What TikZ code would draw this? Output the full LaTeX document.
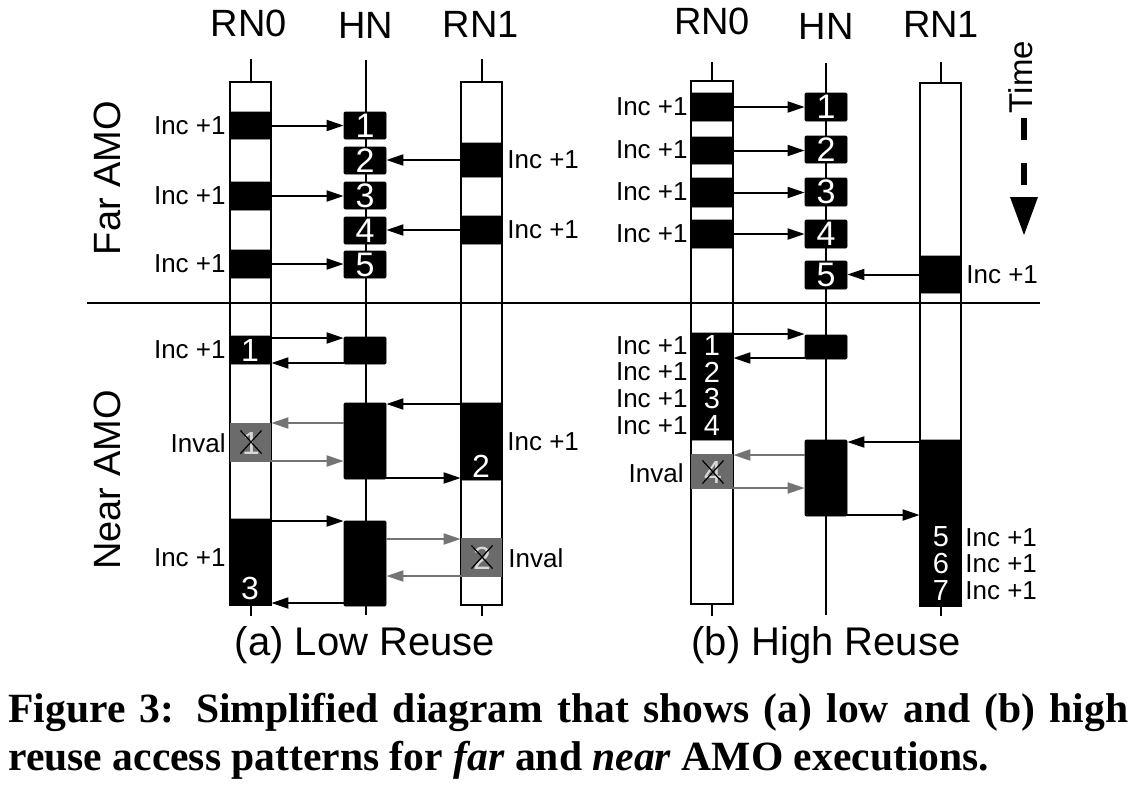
\documentclass[tikz,border=0pt]{standalone}
\usepackage{fontspec}
\setmainfont{Liberation Serif}
\setsansfont{Liberation Sans}
\usetikzlibrary{arrows.meta,shapes.misc}
\definecolor{boxgray}{HTML}{6B6B6B}
\definecolor{arrgray}{HTML}{747474}
\definecolor{numgray}{HTML}{D8D8D8}
\newcommand\bx[7]{%
  \pgfmathsetmacro\bxw{(#4-#2)*0.5}\pgfmathsetmacro\bxh{(#5-#3)*0.5}%
  \node[#6,minimum width=\bxw pt,minimum height=\bxh pt] (#1) at ({(#2+#4)/2},{(#3+#5)/2}) {#7};}
\tikzset{
  bar/.style={draw=black,fill=white,line width=1.2pt,inner sep=0pt},
  blk/.style={draw=black,fill=black,line width=0.4pt,inner sep=0pt,rounded corners=0.6pt,text=white,font=\sffamily\fontsize{17}{17}\selectfont},
  gry/.style={fill=boxgray,inner sep=0pt},
  lab/.style={font=\sffamily\fontsize{13}{13}\selectfont,inner sep=0pt},
  ttl/.style={font=\sffamily\fontsize{19}{19}\selectfont,inner sep=0pt,anchor=base},
  num/.style={font=\sffamily\fontsize{16}{16}\selectfont,inner sep=0pt,text=white},
  snum/.style={font=\sffamily\fontsize{14.5}{14.5}\selectfont,inner sep=0pt,text=white},
  gnum/.style={font=\sffamily\fontsize{16}{16}\selectfont,inner sep=0pt,text=numgray},
  xmark/.style={cross out,draw=black,line width=0.6pt,inner sep=0pt,minimum width=10pt,minimum height=11pt},
  arr/.style={line width=1pt,-{Triangle[length=8.5pt,width=5.5pt]}},
  garr/.style={arr,draw=arrgray,color=arrgray},
  ln/.style={line width=1pt}
}
\begin{document}
\begin{tikzpicture}[x=0.5pt,y=-0.5pt]
\useasboundingbox (0,0) rectangle (1134,788);
\fill[white] (0,0) rectangle (1134,788);

% ===== titles =====
\node[ttl] (tl0) at (249,36) {RN0};
\node[ttl] (tlh) at (366,38) {HN};
\node[ttl] (tl1) at (481,37) {RN1};
\node[ttl] (tr0) at (712,34) {RN0};
\node[ttl] (trh) at (826,39) {HN};
\node[ttl] (tr1) at (941,37) {RN1};

% ===== left panel lifelines =====
\coordinate (lhtop) at (366,60);
\coordinate (lhbot) at (366,615);
\draw[ln] (lhtop) -- (lhbot);
\bx{la0}{230}{82}{271}{605}{bar}{}
\bx{la1}{461}{82}{502}{605}{bar}{}
\draw[ln] (la0.north) -- ++(0,-22);
\draw[ln] (la0.south) -- ++(0,10);
\draw[ln] (la1.north) -- ++(0,-22);
\draw[ln] (la1.south) -- ++(0,10);

% ===== right panel lifelines =====
\coordinate (rhtop) at (826,63);
\coordinate (rhbot) at (826,615);
\draw[ln] (rhtop) -- (rhbot);
\bx{rb0}{691}{81}{733}{604}{bar}{}
\bx{rb1}{920}{83}{961}{606}{bar}{}
\draw[ln] (rb0.north) -- ++(0,-18);
\draw[ln] (rb0.south) -- ++(0,11);
\draw[ln] (rb1.north) -- ++(0,-20);
\draw[ln] (rb1.south) -- ++(0,9);

% ===== divider =====
\coordinate (dvl) at (87,303);
\coordinate (dvr) at (1040,303);
\draw[line width=1.25pt] (dvl) -- (dvr);

% ===== side labels =====
\node[rotate=90,font=\sffamily\fontsize{19}{19}\selectfont,inner sep=0pt] (far) at (107,178) {Far AMO};
\node[rotate=90,font=\sffamily\fontsize{19}{19}\selectfont,inner sep=0pt] (near) at (107,480) {Near AMO};

% ===== left Far AMO =====
\bx{lf1}{230}{112}{271}{139}{blk}{}
\bx{lf3}{230}{182}{271}{210}{blk}{}
\bx{lf5}{230}{250}{271}{278}{blk}{}
\bx{lh1}{344}{112}{386}{139}{blk}{1}
\bx{lh2}{344}{147}{386}{174}{blk}{2}
\bx{lh3}{344}{182}{386}{209}{blk}{3}
\bx{lh4}{344}{217}{386}{244}{blk}{4}
\bx{lh5}{344}{251}{386}{278}{blk}{5}
\bx{lr2}{461}{143}{502}{177}{blk}{}
\bx{lr4}{461}{216}{502}{244}{blk}{}
\draw[arr] (lf1.east) -- (lh1.west |- lf1.east);
\draw[arr] (lf3.east) -- (lh3.west |- lf3.east);
\draw[arr] (lf5.east) -- (lh5.west |- lf5.east);
\draw[arr] (lr2.west) -- (lh2.east |- lr2.west);
\draw[arr] (lr4.west) -- (lh4.east |- lr4.west);
\node[lab,anchor=east] (lfl1) at (226,126) {Inc +1};
\node[lab,anchor=east] (lfl3) at (226,196) {Inc +1};
\node[lab,anchor=east] (lfl5) at (226,264) {Inc +1};
\node[lab,anchor=west] (lfr2) at (507,160) {Inc +1};
\node[lab,anchor=west] (lfr4) at (507,230) {Inc +1};

% ===== left Near AMO =====
\bx{ln1}{230}{336}{271}{364}{blk}{}
\bx{lnh1}{344}{337}{386}{364}{blk}{}
\bx{lnh2}{344}{403}{386}{479}{blk}{}
\bx{lnr2}{461}{403}{502}{480}{blk}{}
\bx{lng1}{230}{423}{271}{462}{gry}{}
\bx{ln3}{230}{519}{271}{605}{blk}{}
\bx{lnh3}{344}{521}{386}{606}{blk}{}
\bx{lng2}{461}{538}{502}{577}{gry}{}
\node[num] (n1a) at (250,350) {1};
\node[num] (n2a) at (481,466) {2};
\node[num] (n3a) at (250,588) {3};
\node[gnum] (g1a) at (251,443) {1};
\node[xmark] (x1a) at (251,442) {};
\node[gnum] (g2a) at (482,558) {2};
\node[xmark] (x2a) at (482,557) {};
\draw[arr] (ln1.east |- 0,338) -- (lnh1.west |- 0,338);
\draw[arr] (lnh1.west |- 0,363) -- (ln1.east |- 0,363);
\draw[arr] (la1.west |- 0,404) -- (lnh2.east |- 0,404);
\draw[garr] (lnh2.west |- 0,423) -- (lng1.east |- 0,423);
\draw[garr] (lng1.east |- 0,461) -- (lnh2.west |- 0,461);
\draw[arr] (lnh2.east |- 0,478) -- (lnr2.west |- 0,478);
\draw[arr] (ln3.east |- 0,521) -- (lnh3.west |- 0,521);
\draw[garr] (lnh3.east |- 0,539) -- (lng2.west |- 0,539);
\draw[garr] (lng2.west |- 0,576) -- (lnh3.east |- 0,576);
\draw[arr] (lnh3.west |- 0,603) -- (ln3.east |- 0,603);
\node[lab,anchor=east] (lnl1) at (226,350) {Inc +1};
\node[lab,anchor=east] (lnl2) at (226,443) {Inval};
\node[lab,anchor=west] (lnr2l) at (507,442) {Inc +1};
\node[lab,anchor=east] (lnl3) at (226,558) {Inc +1};
\node[lab,anchor=west] (lnr3l) at (508,558) {Inval};

% ===== right Far AMO =====
\bx{rf1}{691}{93}{733}{121}{blk}{}
\bx{rf2}{691}{137}{733}{164}{blk}{}
\bx{rf3}{691}{178}{733}{207}{blk}{}
\bx{rf4}{691}{220}{733}{248}{blk}{}
\bx{rh1}{805}{93}{847}{121}{blk}{1}
\bx{rh2}{805}{136}{847}{163}{blk}{2}
\bx{rh3}{805}{178}{847}{206}{blk}{3}
\bx{rh4}{805}{220}{847}{248}{blk}{4}
\bx{rh5}{805}{261}{847}{289}{blk}{5}
\bx{rr5}{920}{256}{961}{293}{blk}{}
\draw[arr] (rf1.east) -- (rh1.west |- rf1.east);
\draw[arr] (rf2.east) -- (rh2.west |- rf2.east);
\draw[arr] (rf3.east) -- (rh3.west |- rf3.east);
\draw[arr] (rf4.east) -- (rh4.west |- rf4.east);
\draw[arr] (rr5.west) -- (rh5.east |- rr5.west);
\node[lab,anchor=east] (rfl1) at (688,107) {Inc +1};
\node[lab,anchor=east] (rfl2) at (688,150) {Inc +1};
\node[lab,anchor=east] (rfl3) at (688,192) {Inc +1};
\node[lab,anchor=east] (rfl4) at (688,234) {Inc +1};
\node[lab,anchor=west] (rfr5) at (966,275) {Inc +1};

% ===== right Near AMO =====
\bx{rn0}{691}{333}{733}{440}{blk}{}
\bx{rnh1}{805}{335}{847}{359}{blk}{}
\bx{rng}{691}{454}{733}{489}{gry}{}
\bx{rnh2}{805}{440}{847}{516}{blk}{}
\bx{rnr}{920}{440}{961}{606}{blk}{}
\node[snum] (rn1n) at (712,346) {1};
\node[snum] (rn2n) at (712,372) {2};
\node[snum] (rn3n) at (712,399) {3};
\node[snum] (rn4n) at (712,426) {4};
\node[gnum] (rg4) at (713,472) {4};
\node[xmark] (rx4) at (713,472) {};
\node[snum] (rn5n) at (941,537) {5};
\node[snum] (rn6n) at (941,564) {6};
\node[snum] (rn7n) at (941,591) {7};
\draw[arr] (rn0.east |- 0,334) -- (rnh1.west |- 0,334);
\draw[arr] (rnh1.west |- 0,358) -- (rn0.east |- 0,358);
\draw[arr] (rb1.west |- 0,442) -- (rnh2.east |- 0,442);
\draw[garr] (rnh2.west |- 0,455) -- (rng.east |- 0,455);
\draw[garr] (rng.east |- 0,488) -- (rnh2.west |- 0,488);
\draw[arr] (rnh2.east |- 0,515) -- (rnr.west |- 0,515);
\node[lab,anchor=east] (rnl1) at (688,346) {Inc +1};
\node[lab,anchor=east] (rnl2) at (688,372) {Inc +1};
\node[lab,anchor=east] (rnl3) at (688,399) {Inc +1};
\node[lab,anchor=east] (rnl4) at (688,426) {Inc +1};
\node[lab,anchor=east] (rnlv) at (684,473) {Inval};
\node[lab,anchor=west] (rnr5) at (965,538) {Inc +1};
\node[lab,anchor=west] (rnr6) at (965,564) {Inc +1};
\node[lab,anchor=west] (rnr7) at (965,591) {Inc +1};

% ===== time arrow =====
\node[rotate=90,font=\sffamily\fontsize{16.5}{16.5}\selectfont,inner sep=0pt] (time) at (1021,77) {Time};
\coordinate (tda) at (1024,118);
\coordinate (tdb) at (1024,186);
\coordinate (tha) at (1010,197);
\coordinate (thb) at (1038,197);
\coordinate (thc) at (1024,235);
\draw[line width=3pt,dash pattern=on 11pt off 11.5pt] (tda) -- (tdb);
\fill (tha) -- (thb) -- (thc) -- cycle;

% ===== subcaptions =====
\node[ttl,font=\sffamily\fontsize{20}{20}\selectfont] (suba) at (365,655) {(a) Low Reuse};
\node[ttl,font=\sffamily\fontsize{20}{20}\selectfont] (subb) at (826,655) {(b) High Reuse};

% ===== caption =====
\node[anchor=base west,inner sep=0pt,font=\bfseries\fontsize{20.8}{20.8}\selectfont] (cap1) at (8,722) {\makebox[560pt][s]{Figure 3: Simplified diagram that shows (a) low and (b) high}};
\node[anchor=base west,inner sep=0pt,font=\bfseries\fontsize{20.8}{20.8}\selectfont] (cap2) at (8,770) {reuse access patterns for \textit{far} and \textit{near} AMO executions.};
\end{tikzpicture}
\end{document}
